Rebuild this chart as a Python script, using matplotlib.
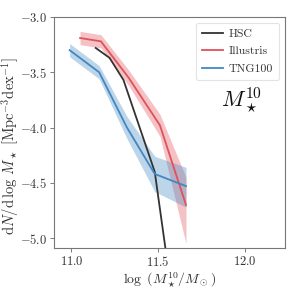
import numpy as np
import matplotlib
matplotlib.use('Agg')
import matplotlib.pyplot as plt

plt.rcParams['font.family'] = 'serif'
plt.rcParams['font.serif'] = ['cmr10', 'DejaVu Serif']
plt.rcParams['mathtext.fontset'] = 'cm'
plt.rcParams['axes.formatter.use_mathtext'] = True

# HSC
hsc_x = [11.14, 11.22, 11.30, 11.48, 11.56]
hsc_y = [-3.28, -3.37, -3.57, -4.40, -5.30]

# Illustris
ill_x = [11.05, 11.17, 11.33, 11.51, 11.66]
ill_y = [-3.19, -3.22, -3.55, -3.98, -4.70]
ill_lo = [-3.25, -3.28, -3.62, -4.08, -5.05]
ill_hi = [-3.13, -3.16, -3.48, -3.88, -4.45]

# TNG100
tng_x = [10.99, 11.16, 11.32, 11.48, 11.66]
tng_y = [-3.30, -3.50, -4.00, -4.42, -4.53]
tng_lo = [-3.36, -3.56, -4.10, -4.58, -4.72]
tng_hi = [-3.24, -3.44, -3.90, -4.26, -4.36]

red = '#e0525a'
blue = '#4287c2'

fig = plt.figure(figsize=(2.91, 2.91), dpi=100)
ax = fig.add_axes([54 / 291, 43 / 291, 231 / 291, 231 / 291])

ax.plot(hsc_x, hsc_y, color='#333333', lw=1.3, label='HSC')
ax.fill_between(ill_x, ill_lo, ill_hi, color=red, alpha=0.35, lw=0)
ax.plot(ill_x, ill_y, color=red, lw=1.3, label='Illustris')
ax.fill_between(tng_x, tng_lo, tng_hi, color=blue, alpha=0.35, lw=0)
ax.plot(tng_x, tng_y, color=blue, lw=1.3, label='TNG100')

ax.set_xlim(10.9, 12.23)
ax.set_ylim(-5.09, -3.0)
ax.set_xticks([11.0, 11.5, 12.0])
ax.set_yticks([-5.0, -4.5, -4.0, -3.5, -3.0])
ax.tick_params(labelsize=9, length=3, width=0.6, pad=2, color='#666666', labelcolor='#333333')
for s in ax.spines.values():
    s.set_color('#777777')
    s.set_linewidth(0.8)

ax.set_xlabel(r'$\log\ (M_\star^{10}/M_\odot)$', fontsize=10, color='#333333', labelpad=1)
ax.set_ylabel(r'$\mathrm{d}N/\mathrm{d}\,\log\, M_\star\ [\mathrm{Mpc}^{-3}\mathrm{dex}^{-1}]$',
              fontsize=10.5, color='#333333')
ax.yaxis.set_label_coords(-0.145, 0.44)

leg = ax.legend(loc='upper right', fontsize=8.5, frameon=True, fancybox=True,
                handlelength=1.8, borderpad=0.5, labelspacing=0.6, handletextpad=0.5)
leg.get_frame().set_edgecolor('#dddddd')
leg.get_frame().set_linewidth(0.8)
for t in leg.get_texts():
    t.set_color('#333333')

ax.text(0.81, 0.64, r'$M_\star^{10}$', transform=ax.transAxes, fontsize=16,
        ha='center', va='center', color='#111111')

fig.savefig('out.png', dpi=100)
